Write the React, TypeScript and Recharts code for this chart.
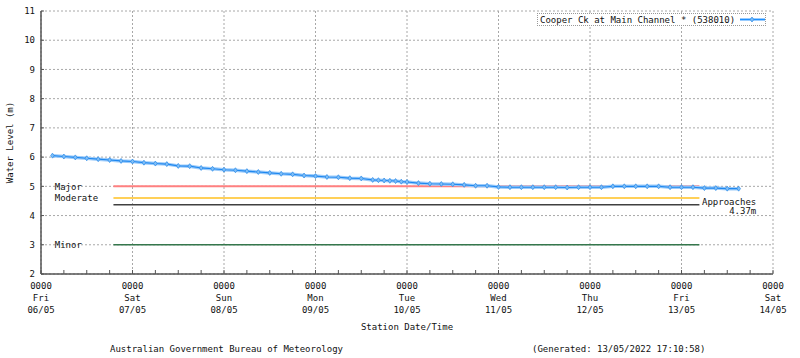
import React from 'react';
import { ComposedChart, Line, XAxis, YAxis, CartesianGrid, Scatter } from 'recharts';

// hours since 06/05 00:00
const hours = [3, 6, 9, 12, 15, 18, 21, 24, 27, 30, 33, 36, 39, 42, 45, 48, 51, 54, 57, 60, 63, 66, 69, 72, 75, 78, 81, 84,
  87, 88.5, 90, 91.5, 93, 94.5, 96, 99, 102, 105, 108, 111, 114, 117, 120, 123, 126, 129, 132, 135, 138, 141, 144, 147,
  150, 153, 156, 159, 162, 165, 168, 171, 174, 177, 180, 183];
const levels = [6.05, 6.02, 5.99, 5.96, 5.93, 5.90, 5.87, 5.85, 5.81, 5.78, 5.76, 5.70, 5.69, 5.63, 5.60, 5.57, 5.55, 5.52,
  5.49, 5.46, 5.43, 5.41, 5.37, 5.35, 5.32, 5.31, 5.28, 5.27,
  5.22, 5.21, 5.20, 5.19, 5.18, 5.16, 5.15, 5.11, 5.09, 5.08, 5.07, 5.05, 5.02, 5.02, 4.98, 4.97, 4.97, 4.97, 4.97, 4.97,
  4.96, 4.97, 4.97, 4.97, 5.00, 5.00, 5.00, 5.00, 5.00, 4.97, 4.97, 4.97, 4.94, 4.94, 4.92, 4.92];

const dayTicks = [0, 24, 48, 72, 96, 120, 144, 168, 192];
const dayTimes = ['0000', '0000', '0000', '0000', '0000', '0000', '0000', '0000', '0000'];
const dayNames = ['Fri', 'Sat', 'Sun', 'Mon', 'Tue', 'Wed', 'Thu', 'Fri', 'Sat'];
const dayDates = ['06/05', '07/05', '08/05', '09/05', '10/05', '11/05', '12/05', '13/05', '14/05'];
const minorTicks = [0, 6, 12, 18, 24, 30, 36, 42, 48, 54, 60, 66, 72, 78, 84, 90, 96, 102, 108, 114, 120, 126, 132, 138,
  144, 150, 156, 162, 168, 174, 180, 186, 192];
const yTicks = [2, 3, 4, 5, 6, 7, 8, 9, 10, 11];

const thresholdNames = ['Major', 'Moderate', 'Approaches', 'Minor'];
const thresholdValues = [5.0, 4.6, 4.37, 3.0];
const thresholdStart = 19;
const thresholdEnd = 172.7;

const seriesName = 'Cooper Ck at Main Channel * (538010)';
const footerLeft = 'Australian Government Bureau of Meteorology';
const footerRight = '(Generated: 13/05/2022 17:10:58)';

const FONT = '"DejaVu Sans Mono", "Liberation Mono", monospace';
const FS = 9;
const thresholdColors = ['#ff8080', '#ffc020', '#404040', '#35774c'];
const thresholdWidths = [2, 1.5, 1.5, 1.5];

const data = hours.map((h, i) => ({ x: h, level: levels[i] }));
const leftLabels = [0, 1, 3].map((i) => ({ x: 3.6, y: thresholdValues[i], lines: [thresholdNames[i]], anchor: 'start' }));
const rightLabels = [{ x: 187.6, y: thresholdValues[2], lines: [thresholdNames[2], thresholdValues[2].toFixed(2) + 'm'], anchor: 'end' }];

const Diamond = (props: any) => {
  const { cx, cy } = props;
  if (cx == null || cy == null) return <g />;
  return (
    <path
      d={`M${cx},${cy - 2.5}L${cx + 1.8},${cy}L${cx},${cy + 2.5}L${cx - 1.8},${cy}Z`}
      fill="#80bff7"
      stroke="#2a8ae8"
      strokeWidth={0.7}
    />
  );
};

const TextShape = (props: any) => {
  const { cx, cy, payload } = props;
  if (cx == null || cy == null) return <g />;
  const lines: string[] = payload.lines;
  const first = lines.length > 1 ? -2.5 : 0;
  return (
    <text x={cx} textAnchor={payload.anchor} fontFamily={FONT} fontSize={FS} fill="#111">
      {lines.map((l, i) => (
        <tspan key={i} x={cx} y={cy + first + i * 9 + 3.2}>{l}</tspan>
      ))}
    </text>
  );
};

const XTick = (props: any) => {
  const { x, y, payload } = props;
  const idx = dayTicks.indexOf(payload.value);
  if (idx < 0) return <g />;
  return (
    <g>
      <text x={x} y={y + 3.2} textAnchor="middle" fontFamily={FONT} fontSize={FS} fill="#111">{dayTimes[idx]}</text>
      <text x={x} y={y + 15.2} textAnchor="middle" fontFamily={FONT} fontSize={FS} fill="#111">{dayNames[idx]}</text>
      <text x={x} y={y + 27.2} textAnchor="middle" fontFamily={FONT} fontSize={FS} fill="#111">{dayDates[idx]}</text>
    </g>
  );
};

const LegendBox = () => (
  <div
    style={{
      position: 'absolute',
      left: 537,
      top: 13,
      border: '1px dotted #999',
      height: 13,
      width: 229,
      display: 'flex',
      alignItems: 'center',
      fontFamily: FONT,
      fontSize: FS,
      color: '#111',
      whiteSpace: 'nowrap',
      background: '#fff',
      boxSizing: 'border-box',
    }}
  >
    <span style={{ marginLeft: 2 }}>{seriesName}</span>
    <svg width={30} height={11} style={{ marginLeft: 3 }}>
      <line x1={2} y1={5.5} x2={27} y2={5.5} stroke="#99ccff" strokeWidth={3} />
      <line x1={2} y1={5.5} x2={27} y2={5.5} stroke="#1e90ff" strokeWidth={1} />
      <Diamond cx={14} cy={5.5} />
    </svg>
  </div>
);

const gridX = (args: any) => {
  const xa = args && args.xAxis;
  if (xa && typeof xa.scale === 'function') return dayTicks.map((t) => xa.scale(t));
  const o = args.offset;
  return dayTicks.map((t) => o.left + (t / 192) * o.width);
};

export default function App() {
  return (
    <div style={{ position: 'absolute', left: 0, top: 0, width: 800, height: 358, background: '#fff' }}>
      <ComposedChart width={800} height={358} data={data} margin={{ top: 11, right: 27, bottom: 0, left: 0 }}>
        <CartesianGrid
          stroke="#a8a8a8"
          strokeDasharray="2 2"
          verticalCoordinatesGenerator={gridX}
        />
        <XAxis
          dataKey="x"
          type="number"
          domain={[0, 192]}
          ticks={minorTicks}
          interval={0}
          height={84}
          tickSize={-4}
          tickMargin={16}
          tick={<XTick />}
          axisLine={{ stroke: '#555', strokeWidth: 1.5 }}
          tickLine={{ stroke: '#555' }}
          allowDataOverflow
          label={(p: any) => {
            const vb = p.viewBox || {};
            return (
              <text x={vb.x + vb.width / 2} y={vb.y + 56} textAnchor="middle" fontFamily={FONT} fontSize={FS} fill="#111">
                Station Date/Time
              </text>
            );
          }}
        />
        <XAxis
          xAxisId="top"
          orientation="top"
          type="number"
          domain={[0, 192]}
          height={0}
          tick={false}
          tickLine={false}
          axisLine={{ stroke: '#555', strokeWidth: 1.5 }}
        />
        <YAxis
          type="number"
          domain={[2, 11]}
          ticks={yTicks}
          interval={0}
          width={41}
          tickSize={-3}
          tickMargin={9}
          tick={{ fontFamily: FONT, fontSize: FS, fill: '#111' }}
          axisLine={{ stroke: '#555', strokeWidth: 1.5 }}
          tickLine={{ stroke: '#555' }}
          allowDataOverflow
          label={(p: any) => {
            const vb = p.viewBox || {};
            const cx = 10;
            const cy = vb.y + vb.height / 2;
            return (
              <text x={cx} y={cy} transform={`rotate(-90, ${cx}, ${cy})`} textAnchor="middle" dominantBaseline="central" fontFamily={FONT} fontSize={FS} fill="#111">
                Water Level (m)
              </text>
            );
          }}
        />
        <YAxis
          yAxisId="r"
          orientation="right"
          type="number"
          domain={[2, 11]}
          ticks={yTicks}
          interval={0}
          width={0}
          tick={false}
          tickSize={-4}
          axisLine={{ stroke: '#555', strokeWidth: 1.5 }}
          tickLine={{ stroke: '#333' }}
        />
        {thresholdValues.map((v, i) => (
          <Line
            key={thresholdNames[i]}
            data={[{ x: thresholdStart, y: v }, { x: thresholdEnd, y: v }]}
            dataKey="y"
            stroke={thresholdColors[i]}
            strokeWidth={thresholdWidths[i]}
            dot={false}
            isAnimationActive={false}
          />
        ))}
        <Line dataKey="level" stroke="#9ccbfa" strokeWidth={3.5} dot={false} isAnimationActive={false} />
        <Line dataKey="level" stroke="#1e88f0" strokeWidth={1.1} dot={<Diamond />} isAnimationActive={false} name={seriesName} />
        <Scatter data={leftLabels} dataKey="y" shape={<TextShape />} isAnimationActive={false} />
        <Scatter data={rightLabels} dataKey="y" shape={<TextShape />} isAnimationActive={false} />
      </ComposedChart>
      <LegendBox />
      <div style={{ position: 'absolute', left: 110, top: 344, fontFamily: FONT, fontSize: FS, color: '#111', whiteSpace: 'nowrap' }}>
        {footerLeft}
      </div>
      <div style={{ position: 'absolute', left: 532, top: 344, fontFamily: FONT, fontSize: FS, color: '#111', whiteSpace: 'nowrap' }}>
        {footerRight}
      </div>
    </div>
  );
}
